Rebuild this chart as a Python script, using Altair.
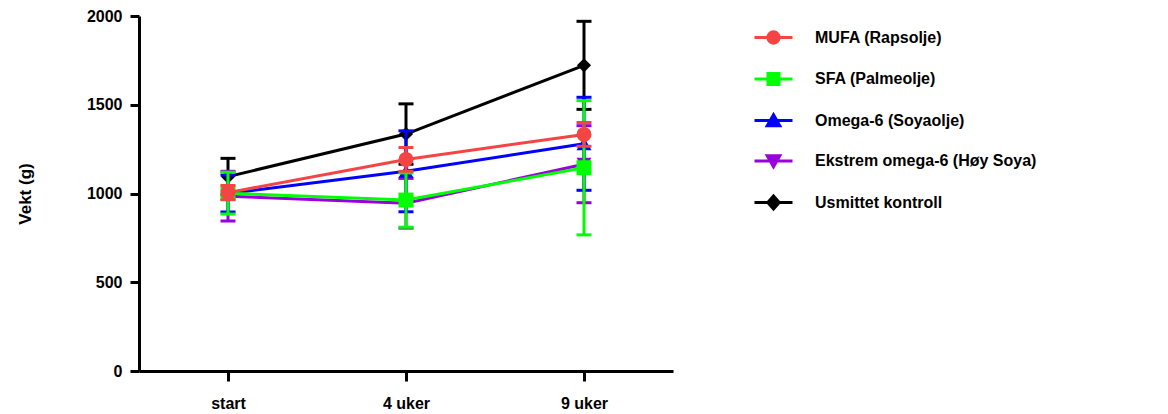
import altair as alt
import pandas as pd

categories = ["start", "4 uker", "9 uker"]
series_names = ["MUFA (Rapsolje)", "SFA (Palmeolje)", "Omega-6 (Soyaolje)",
                "Ekstrem omega-6 (Høy Soya)", "Usmittet kontroll"]
colors = ["#F44444", "#00FF00", "#0000FF", "#9900DD", "#000000"]
shapes = ["circle", "square", "triangle-up", "triangle-down", "diamond"]

mufa_mean = [1005, 1192, 1333]
mufa_err = [40, 67, 67]
sfa_mean = [1002, 963, 1145]
sfa_err = [118, 153, 378]
omega6_mean = [1000, 1125, 1280]
omega6_err = [104, 228, 262]
ekstrem_mean = [985, 945, 1165]
ekstrem_err = [140, 140, 217]
kontroll_mean = [1095, 1335, 1722]
kontroll_err = [103, 170, 248]

means = [mufa_mean, sfa_mean, omega6_mean, ekstrem_mean, kontroll_mean]
errs = [mufa_err, sfa_err, omega6_err, ekstrem_err, kontroll_err]

rows = []
for s, m, e in zip(series_names, means, errs):
    for i, c in enumerate(categories):
        rows.append({"series": s, "time": c, "t": i, "mean": m[i],
                     "lo": m[i] - e[i], "hi": m[i] + e[i]})
df = pd.DataFrame(rows)

FONT = "Liberation Sans"

xenc = alt.X("time:N", sort=categories, title=None,
             scale=alt.Scale(type="point", padding=0.5),
             axis=alt.Axis(labelAngle=0, tickSize=10, labelPadding=14))
yscale = alt.Scale(domain=[0, 2000], nice=False)
yaxis = alt.Axis(values=[0, 500, 1000, 1500, 2000], format="d", title="Vekt (g)",
                 tickSize=9, labelPadding=8, titlePadding=52)
color_scale = alt.Scale(domain=series_names, range=colors)

legend_paths = [
    "M-1,0H1M-0.3,0A0.3,0.3 0 1,0 0.3,0A0.3,0.3 0 1,0 -0.3,0Z",
    "M-1,0H1M-0.29,-0.29H0.29V0.29H-0.29Z",
    "M-1,0H1M0,-0.3L0.33,0.27H-0.33Z",
    "M-1,0H1M0,0.3L0.33,-0.27H-0.33Z",
    "M-1,0H1M0,-0.34L0.3,0L0,0.34L-0.3,0Z",
]

draw_order = [4, 3, 2, 1, 0]
layers = []
for idx in draw_order:
    s = series_names[idx]
    base = alt.Chart(df).transform_filter(alt.datum.series == s)
    col = alt.Color("series:N", scale=color_scale, legend=None)
    rule = base.mark_rule(strokeWidth=3).encode(
        x=xenc, y=alt.Y("lo:Q", scale=yscale, axis=yaxis), y2="hi:Q", color=col)
    tlo = base.mark_tick(size=15, thickness=3, opacity=1).encode(
        x=xenc, y=alt.Y("lo:Q", scale=yscale, axis=yaxis), color=col)
    thi = base.mark_tick(size=15, thickness=3, opacity=1).encode(
        x=xenc, y=alt.Y("hi:Q", scale=yscale, axis=yaxis), color=col)
    line = base.mark_line(strokeWidth=3).encode(
        x=xenc, y=alt.Y("mean:Q", scale=yscale, axis=yaxis), color=col,
        order="t:Q")
    size = 200 if shapes[idx] == "diamond" else 225
    pt = base.mark_point(shape=shapes[idx], filled=True, size=size, opacity=1).encode(
        x=xenc, y=alt.Y("mean:Q", scale=yscale, axis=yaxis), color=col)
    layers += [rule, tlo, thi, line, pt]

legend_cfg = alt.Legend(title=None, orient="none", legendX=614, legendY=1,
                        symbolSize=1444, symbolStrokeWidth=3, symbolOpacity=1,
                        labelFont=FONT, labelFontSize=16, labelFontWeight="bold",
                        labelColor="black", labelOffset=21, rowPadding=8.5,
                        labelLimit=500)
legend_layer = alt.Chart(df).transform_filter(alt.datum.t == 0).mark_point(
    filled=True, opacity=0, strokeWidth=3).encode(
    x=xenc, y=alt.Y("mean:Q", scale=yscale, axis=yaxis),
    fill=alt.Fill("series:N", scale=color_scale, legend=legend_cfg),
    stroke=alt.Stroke("series:N", scale=color_scale, legend=legend_cfg),
    shape=alt.Shape("series:N", scale=alt.Scale(domain=series_names, range=legend_paths),
                    legend=legend_cfg),
)

chart = alt.layer(legend_layer, *layers).properties(
    width=534, height=355,
    autosize=alt.AutoSizeParams(type="none"),
    padding={"left": 131, "top": 8, "right": 487, "bottom": 45},
).configure_view(stroke=None).configure_axis(
    grid=False, domainColor="black", domainWidth=3, tickColor="black", tickWidth=3,
    labelFont=FONT, labelFontSize=16, labelFontWeight="bold", labelColor="black",
    titleFont=FONT, titleFontSize=17, titleFontWeight="bold", titleColor="black",
)

chart.save("out.html", embed_options={"renderer": "svg", "actions": False})
